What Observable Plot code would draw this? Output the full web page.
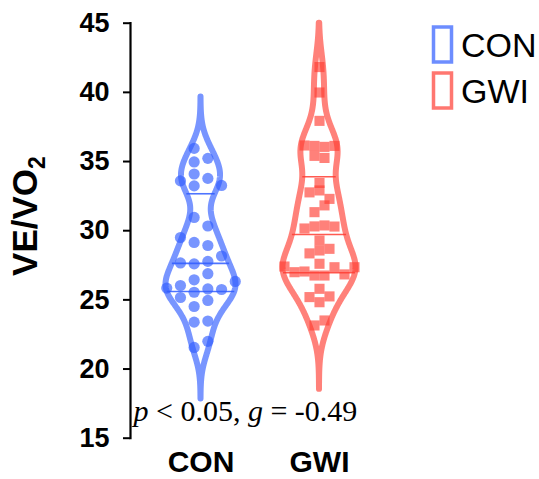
<!DOCTYPE html>
<html><head><meta charset="utf-8">
<script src="https://cdn.jsdelivr.net/npm/d3@7"></script>
<script src="https://cdn.jsdelivr.net/npm/@observablehq/plot@0.6"></script>
<style>body{margin:0;background:#fff;overflow:hidden;} #chart{width:539px;height:479px;}</style>
</head><body><div id="chart"></div>
<script>
// ---- data ----
const groups = ["CON", "GWI"];
const conValues = [35.95, 34.97, 35.23, 34.10, 33.60, 33.24, 33.78, 33.27, 30.96, 30.34, 29.51, 29.15, 28.93,
  27.67, 27.60, 27.78, 28.17, 26.45, 26.89, 25.85, 26.04, 25.55, 25.79, 25.75, 26.33, 25.17, 24.52, 24.96,
  23.39, 23.47, 21.56, 22.00];
const gwiValues = [41.83, 39.99, 37.94, 36.16, 36.13, 36.06, 36.13, 35.41, 35.26, 33.45, 32.77, 32.91, 32.30,
  31.34, 31.83, 30.16, 30.31, 30.38, 30.30, 29.29, 28.36, 28.57, 28.69, 27.61, 27.41, 27.00, 27.05, 26.76,
  26.76, 27.36, 26.84, 27.36, 25.80, 25.20, 24.83, 25.25, 23.15, 23.51];
const yTicks = [15, 20, 25, 30, 35, 40, 45];
const yLabel = "VE/VO";
const yLabelSub = "2";
const statsText = "p < 0.05, g = -0.49";
const italicWords = ["p", "g"];

// ---- styles / layout ----
const colors = {CON: "#2f5cff", GWI: "#ff3d33"};
const W = 539, H = 479;
const M = {left: 130, right: 149.5, top: 22.7, bottom: 41.3};
const xDomain = [-0.595, 1.595];
const pxPerX = (W - M.left - M.right) / (xDomain[1] - xDomain[0]);
const sans = "'Liberation Sans', Arial, sans-serif";
const series = [
  {key: "CON", values: conValues, symbol: "circle", r: 5.6, spacing: 13.7, oddShift: -0.5, rowGap: 0.8, bw: 1.2, maxHalf: 35, tail: 3.1},
  {key: "GWI", values: gwiValues, symbol: "square", r: 5.7, spacing: 10, oddShift: 0, rowGap: 0.7, bw: 1.4, maxHalf: 36.5, tail: 3.3}
];

function layoutPoints(s, gi) {
  const idx = s.values.map((v, i) => i).sort((a, b) => s.values[a] - s.values[b] || a - b);
  const rows = []; let cur = null;
  for (const i of idx) {
    const v = s.values[i];
    if (!cur || v - cur.start > s.rowGap) { cur = {start: v, members: []}; rows.push(cur); }
    cur.members.push(i);
  }
  const pts = [];
  for (const row of rows) {
    const m = row.members.slice().sort((a, b) => a - b);
    const n = m.length;
    m.forEach((i, k) => {
      const off = ((k - (n - 1) / 2) + (n % 2 ? s.oddShift : 0)) * s.spacing;
      pts.push({group: s.key, value: s.values[i], x: gi + off / pxPerX});
    });
  }
  return pts;
}
function density(s, y) { return d3.sum(s.values, v => Math.exp(-0.5 * ((y - v) / s.bw) ** 2)); }
function violin(s, gi) {
  const lo = Math.max(15, d3.min(s.values) - s.tail * s.bw), hi = Math.min(45, d3.max(s.values) + s.tail * s.bw);
  const grid = d3.range(lo, hi, 0.05).concat([hi]);
  const dens = grid.map(y => density(s, y));
  const mx = d3.max(dens);
  s.maxDens = mx;
  return grid.map((y, j) => { const hw = s.maxHalf * dens[j] / mx / pxPerX; return {v: y, x1: gi - hw, x2: gi + hw}; });
}
function quant(sorted, p) {
  const pos = (sorted.length + 1) * p, lo = Math.floor(pos), f = pos - lo;
  return sorted[lo - 1] + f * (sorted[lo] - sorted[lo - 1]);
}

const marks = [];
series.forEach((s, gi) => {
  const shape = violin(s, gi);
  const sorted = s.values.slice().sort((a, b) => a - b);
  const qs = [0.25, 0.5, 0.75].map(p => {
    const v = quant(sorted, p);
    const hw = s.maxHalf * density(s, v) / s.maxDens / pxPerX;
    return {v, x1: gi - hw, x2: gi + hw};
  });
  marks.push(Plot.ruleY(qs, {y: "v", x1: "x1", x2: "x2", stroke: colors[s.key], strokeOpacity: 0.85, strokeWidth: 1.6}));
  marks.push(Plot.areaX(shape, {y: "v", x1: "x1", x2: "x2", fill: "none", stroke: colors[s.key], strokeOpacity: 0.65, strokeWidth: 6, strokeLinejoin: "round", curve: "linear"}));
  marks.push(Plot.dot(layoutPoints(s, gi), {x: "x", y: "value", r: s.r, symbol: s.symbol, fill: colors[s.key], fillOpacity: 0.65, stroke: "none"}));
});

const tickLen = 7 / pxPerX;
const plot = Plot.plot({
  width: W, height: H,
  marginLeft: M.left, marginRight: M.right, marginTop: M.top, marginBottom: M.bottom,
  x: {domain: xDomain, axis: null},
  y: {domain: [15, 45], axis: null},
  style: {fontFamily: sans, background: "white", color: "black", overflow: "visible"},
  marks: [
    ...marks,
    Plot.frame({anchor: "left", stroke: "black", strokeWidth: 2.2}),
    Plot.ruleY(yTicks, {y: d => d, x1: xDomain[0] - tickLen, x2: xDomain[0], stroke: "black", strokeWidth: 2}),
    Plot.text(yTicks, {y: d => d, frameAnchor: "left", text: d => String(d), textAnchor: "end", lineAnchor: "middle",
      dx: -21, fontSize: 27, fontWeight: "bold", fill: "black"}),
    Plot.text(groups, {x: (d, i) => i, frameAnchor: "bottom", text: d => d, lineAnchor: "top", dy: 12,
      fontSize: 30, fontWeight: "bold", fill: "black"}),
    Plot.text([statsText], {frameAnchor: "bottom-left", dx: 3, dy: -17, textAnchor: "start", lineAnchor: "bottom",
      fontFamily: "'Liberation Serif', 'Times New Roman', serif", fontSize: 30, fill: "black"})
  ]
});
document.getElementById("chart").appendChild(plot);

// ---- post: rich text, y label, legend ----
const svg = d3.select(plot);
svg.selectAll("text").filter(function () { return this.textContent === statsText; }).each(function () {
  const t = d3.select(this); const parts = statsText.split(/(\b[pg]\b)/);
  t.text(null);
  parts.forEach(p => { if (p) t.append("tspan").attr("font-style", italicWords.includes(p) ? "italic" : "normal").text(p); });
});
const yl = svg.append("text").attr("transform", "translate(37,216) rotate(-90)").attr("text-anchor", "middle")
  .attr("font-family", sans).attr("font-size", 35).attr("font-weight", "bold").attr("fill", "black");
yl.append("tspan").text(yLabel);
yl.append("tspan").attr("font-size", 23).attr("dy", 8).text(yLabelSub);

const leg = svg.append("g");
groups.forEach((g, i) => {
  leg.append("rect").attr("x", 433.5).attr("y", 27 + i * 46).attr("width", 18).attr("height", 35)
    .attr("fill", "none").attr("stroke", colors[g]).attr("stroke-opacity", 0.7).attr("stroke-width", 3.5);
  leg.append("text").attr("x", 461).attr("y", 57 + i * 46).attr("text-anchor", "start")
    .attr("font-family", sans).attr("font-size", 34).attr("fill", "black").text(g);
});
</script></body></html>
